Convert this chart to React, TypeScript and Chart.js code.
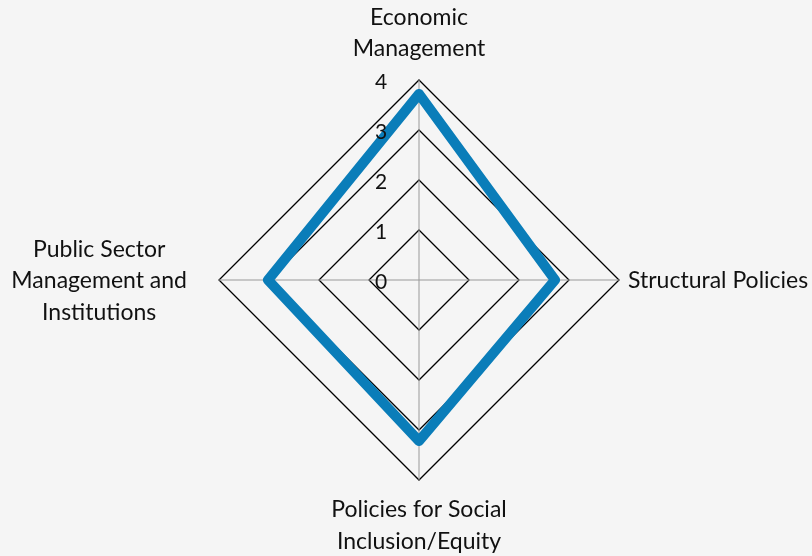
import React, { useEffect, useRef } from "react";
import { Chart, registerables } from "chart.js";

Chart.register(...registerables);

const categories: string[][] = [
  ["Economic", "Management"],
  ["Structural Policies"],
  ["Policies for Social", "Inclusion/Equity"],
  ["Public Sector", "Management and", "Institutions"],
];
const scores: number[] = [3.72, 2.72, 3.22, 3.02];
const tickValues: number[] = [0, 1, 2, 3, 4];

const FONT = "Lato, 'Open Sans', sans-serif";
const LABEL_SIZE = 23;
const LINE_H = 31.5;

const labelPlugin = {
  id: "customLabels",
  afterDatasetsDraw(chart: any) {
    const scale = chart.scales.r;
    const ctx = chart.ctx;
    const R = scale.drawingArea;
    ctx.save();
    ctx.fillStyle = "#111";
    // tick labels
    ctx.font = `21px ${FONT}`;
    ctx.textAlign = "center";
    ctx.textBaseline = "middle";
    tickValues.forEach((v) => {
      const d = scale.getDistanceFromCenterForValue(v);
      ctx.fillText(String(v), scale.xCenter - 38, scale.yCenter - d + 2.5);
    });
    // point labels
    ctx.font = `${LABEL_SIZE}px ${FONT}`;
    categories.forEach((lines, i) => {
      const n = lines.length;
      if (i === 0) {
        const p = scale.getPointPosition(i, R + 31);
        lines.forEach((t, k) => {
          ctx.textAlign = "center";
          ctx.fillText(t, p.x, p.y - (n - 1 - k) * LINE_H);
        });
      } else if (i === 2) {
        const p = scale.getPointPosition(i, R + 30);
        lines.forEach((t, k) => {
          ctx.textAlign = "center";
          ctx.fillText(t, p.x, p.y + k * LINE_H);
        });
      } else if (i === 1) {
        const p = scale.getPointPosition(i, R + 9);
        lines.forEach((t, k) => {
          ctx.textAlign = "left";
          ctx.fillText(t, p.x, p.y + 1 + (k - (n - 1) / 2) * LINE_H);
        });
      } else {
        const p = scale.getPointPosition(i, R + 32);
        const w = Math.max(...lines.map((t) => ctx.measureText(t).width));
        const cx = p.x - w / 2;
        lines.forEach((t, k) => {
          ctx.textAlign = "center";
          ctx.fillText(t, cx, p.y + 1 + (k - (n - 1) / 2) * LINE_H);
        });
      }
    });
    ctx.restore();
  },
};

export default function App() {
  const ref = useRef<HTMLCanvasElement | null>(null);
  useEffect(() => {
    document.body.style.margin = "0";
    document.body.style.background = "#f5f5f5";
    const chart = new Chart(ref.current as HTMLCanvasElement, {
      type: "radar",
      data: {
        labels: categories,
        datasets: [
          {
            data: scores,
            borderColor: "#0a7db9",
            borderWidth: 10,
            borderJoinStyle: "round",
            fill: false,
            pointRadius: 0,
            pointHoverRadius: 0,
          },
        ],
      },
      options: {
        animation: false,
        responsive: false,
        layout: { padding: { top: 80, bottom: 76, left: 219, right: 193 } },
        plugins: { legend: { display: false }, tooltip: { enabled: false } },
        scales: {
          r: {
            min: 0,
            max: 4,
            ticks: { stepSize: 1, display: false },
            grid: { color: "#000", lineWidth: 1.3 },
            angleLines: { color: "#999", lineWidth: 1 },
            pointLabels: { display: false },
          },
        },
      },
      plugins: [labelPlugin],
    });
    return () => chart.destroy();
  }, []);
  return (
    <div style={{ width: 812, height: 556, background: "#f5f5f5" }}>
      <canvas ref={ref} width={812} height={556} style={{ display: "block" }} />
    </div>
  );
}
